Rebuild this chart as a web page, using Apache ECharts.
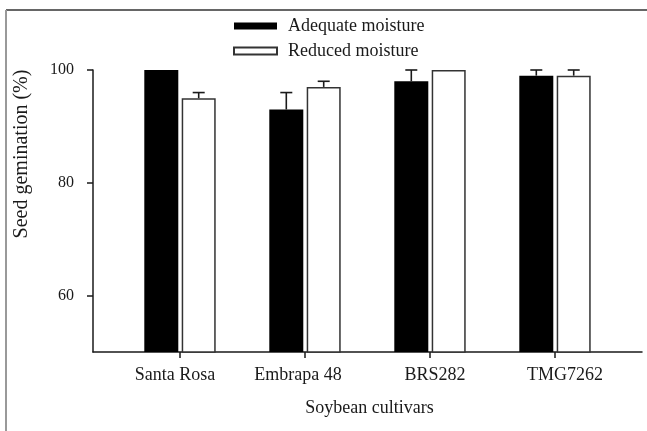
<!DOCTYPE html>
<html><head><meta charset="utf-8">
<script src="https://cdn.jsdelivr.net/npm/echarts@6/dist/echarts.min.js"></script>
<style>html,body{margin:0;padding:0;background:#fff}#c{width:647px;height:431px}</style>
</head><body><div id="c"></div>
<script>
const categories = ['Santa Rosa', 'Embrapa 48', 'BRS282', 'TMG7262'];
const adequate = [100, 93, 98, 99];
const adequateErr = [0, 3, 2, 1];
const reduced = [95, 97, 100, 99];
const reducedErr = [1, 1, 0, 1];
const yTicks = [60, 80, 100];
const seriesNames = ['Adequate moisture', 'Reduced moisture'];

const FONT = "'Liberation Serif', 'Times New Roman', serif";
const INK = '#1a1a1a';
// label horizontal paddings (style only)
const labelPads = [[0, 10, 0, 0], [0, 14, 0, 0], [0, 0, 0, 10], [0, 0, 0, 20]];

function errSeries(vals, errs, side) {
  return {
    type: 'custom',
    xAxisIndex: 0, yAxisIndex: 0,
    clip: false,
    silent: true,
    z: 5,
    data: vals.map((v, i) => [i, v, errs[i]]),
    encode: { x: 0, y: 1 },
    renderItem: function (params, api) {
      const err = api.value(2);
      if (!err) return null;
      const v = api.value(1);
      const base = api.coord([api.value(0), v]);
      const top = api.coord([api.value(0), v + err]);
      const x = base[0] + side * 18.7;
      const cap = 6;
      const st = { stroke: INK, lineWidth: 1.6 };
      return {
        type: 'group',
        children: [
          { type: 'line', shape: { x1: x, y1: base[1], x2: x, y2: top[1] }, style: st },
          { type: 'line', shape: { x1: x - cap, y1: top[1], x2: x + cap, y2: top[1] }, style: st }
        ]
      };
    }
  };
}

const chart = echarts.init(document.getElementById('c'), null, { renderer: 'canvas' });
chart.setOption({
  animation: false,
  backgroundColor: '#fff',
  textStyle: { fontFamily: FONT, color: INK },
  graphic: [
    { type: 'line', shape: { x1: 6, y1: 10, x2: 647, y2: 10 }, style: { stroke: '#333', lineWidth: 1.5 } },
    { type: 'line', shape: { x1: 6, y1: 10, x2: 6, y2: 431 }, style: { stroke: '#999', lineWidth: 2 } }
  ],
  legend: {
    orient: 'vertical',
    left: 233, top: 17,
    padding: 0,
    itemWidth: 43, itemHeight: 7,
    itemGap: 7,
    icon: 'rect',
    data: seriesNames,
    textStyle: { fontFamily: FONT, fontSize: 18, color: INK, padding: [0, 0, 0, 6] }
  },
  grid: [
    { left: 117.5, right: 29.5, top: 70, bottom: 79 },
    { left: 93, right: 5, top: 70, bottom: 79 }
  ],
  xAxis: [
    {
      type: 'category', gridIndex: 0,
      data: categories.map((c, i) => ({ value: c, textStyle: { padding: labelPads[i] } })),
      axisLine: { show: false },
      axisTick: { show: true, alignWithLabel: true, length: 6, lineStyle: { color: INK, width: 1.5 } },
      axisLabel: { fontFamily: FONT, fontSize: 18, color: INK, margin: 14 },
      name: 'Soybean cultivars', nameLocation: 'middle', nameGap: 47,
      nameTextStyle: { fontFamily: FONT, fontSize: 18, color: INK, padding: [0, 0, 0, 4] }
    },
    {
      type: 'value', gridIndex: 1, min: 0, max: 1,
      axisLine: { show: true, onZero: false, lineStyle: { color: INK, width: 1.5 } },
      axisTick: { show: false }, axisLabel: { show: false }, splitLine: { show: false }
    }
  ],
  yAxis: [
    {
      type: 'value', gridIndex: 0, min: 50, max: 100, offset: 24.5,
      axisLine: { show: true, lineStyle: { color: INK, width: 1.5 } },
      axisTick: { show: true, customValues: yTicks, length: 6, lineStyle: { color: INK, width: 1.5 } },
      axisLabel: { customValues: yTicks, fontFamily: FONT, fontSize: 16, color: INK, margin: 19 },
      splitLine: { show: false },
      name: 'Seed gemination (%)', nameLocation: 'middle', nameGap: 61,
      nameTextStyle: { fontFamily: FONT, fontSize: 20, color: INK, padding: [0, 0, 0, 114] }
    },
    {
      type: 'value', gridIndex: 1, min: 0, max: 1, show: false
    }
  ],
  series: [
    {
      name: seriesNames[0], type: 'bar', xAxisIndex: 0, yAxisIndex: 0,
      data: adequate, barWidth: 34, barGap: '10%',
      itemStyle: { color: '#000', borderColor: '#000', borderWidth: 0 }
    },
    {
      name: seriesNames[1], type: 'bar', xAxisIndex: 0, yAxisIndex: 0,
      data: reduced, barWidth: 34, barGap: '10%',
      itemStyle: { color: '#fff', borderColor: '#333', borderWidth: 1.5 }
    },
    errSeries(adequate, adequateErr, -1),
    errSeries(reduced, reducedErr, 1)
  ]
});
</script>
</body></html>
